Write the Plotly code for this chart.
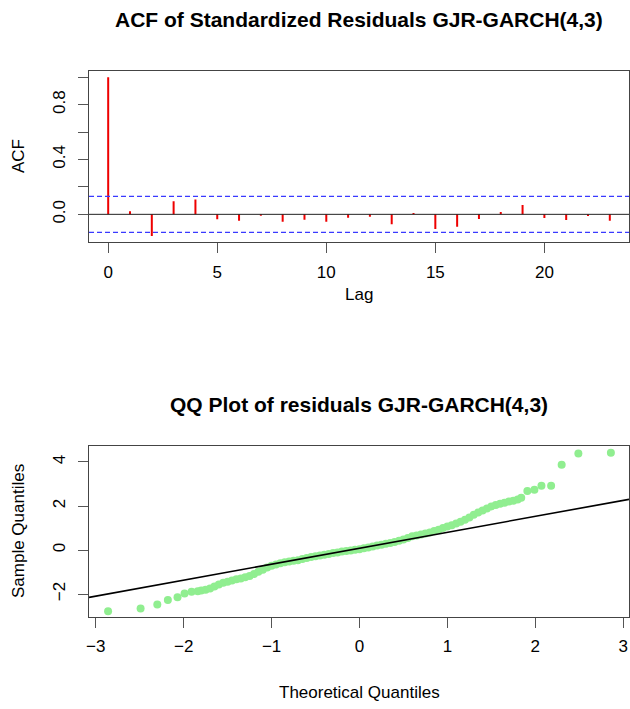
import plotly.graph_objects as go

# ---------------- data ----------------
acf_lags = list(range(0, 24))
acf_values = [1.0, 0.022, -0.158, 0.095, 0.109, -0.036, -0.047, -0.010, -0.054, -0.039,
              -0.054, -0.025, -0.017, -0.073, 0.009, -0.107, -0.090, -0.034, 0.017, 0.068,
              -0.027, -0.042, -0.012, -0.047]
acf_conf = 0.131
acf_xticks = [0, 5, 10, 15, 20]
acf_yticks = [0.0, 0.2, 0.4, 0.6, 0.8, 1.0]
acf_yticklabels = ["0.0", "", "0.4", "", "0.8", ""]

qq_theoretical = [
    -2.86, -2.49, -2.30, -2.18, -2.07, -1.99, -1.91, -1.84,
    -1.80, -1.75, -1.70, -1.65, -1.60, -1.55, -1.50, -1.45, -1.40, -1.35,
    -1.30, -1.25, -1.20, -1.15, -1.10, -1.05, -1.00, -0.95, -0.90, -0.85,
    -0.80, -0.75, -0.70, -0.65, -0.60, -0.55, -0.50, -0.45, -0.40, -0.35,
    -0.30, -0.25, -0.20, -0.15, -0.10, -0.05, 0.00, 0.05, 0.10, 0.15,
    0.20, 0.25, 0.30, 0.35, 0.40, 0.45, 0.50, 0.55, 0.60, 0.65,
    0.70, 0.75, 0.80, 0.85, 0.90, 0.95, 1.00, 1.05, 1.10, 1.15,
    1.20, 1.25, 1.30, 1.35, 1.40, 1.45, 1.50, 1.55, 1.60, 1.65,
    1.70, 1.75, 1.80,
    1.84, 1.91, 1.99, 2.07, 2.18, 2.30, 2.49, 2.86]
qq_sample = [
    -2.78, -2.66, -2.48, -2.27, -2.15, -1.98, -1.90, -1.87,
    -1.84, -1.80, -1.75, -1.66, -1.57, -1.49, -1.44, -1.38, -1.33, -1.29,
    -1.24, -1.18, -1.09, -0.99, -0.90, -0.80, -0.72, -0.66, -0.60, -0.56,
    -0.52, -0.49, -0.46, -0.41, -0.36, -0.32, -0.28, -0.25, -0.21, -0.18,
    -0.14, -0.11, -0.07, -0.05, -0.02, 0.01, 0.04, 0.08, 0.12, 0.16,
    0.20, 0.24, 0.28, 0.32, 0.36, 0.42, 0.48, 0.55, 0.62, 0.66,
    0.70, 0.75, 0.80, 0.86, 0.92, 1.00, 1.07, 1.13, 1.20, 1.29,
    1.38, 1.48, 1.60, 1.70, 1.80, 1.89, 1.98, 2.04, 2.10, 2.15,
    2.20, 2.24, 2.30,
    2.38, 2.68, 2.74, 2.92, 2.92, 3.88, 4.38, 4.42]
qq_line_intercept = 0.08
qq_line_slope = 0.725
qq_xticks = [-3, -2, -1, 0, 1, 2, 3]
qq_yticks = [-2, 0, 2, 4]

# ---------------- layout constants ----------------
W, H = 630, 709
ML = 89
MR = 1
PW = W - ML - MR
FONT = "Liberation Sans, Arial, sans-serif"
acf_xrange = [-0.88, 23.88]
acf_yrange = [-0.204, 1.048]
qq_xrange = [-3.077, 3.066]
qq_yrange = [-3.03, 4.74]


def py(pix):
    return 1 - pix / H


def px(pix):
    return (pix - ML) / PW


fig = go.Figure()

# ACF stems
sx, sy = [], []
for lag, v in zip(acf_lags, acf_values):
    sx += [lag, lag, None]
    sy += [0, v, None]
fig.add_trace(go.Scatter(x=sx, y=sy, mode="lines", line=dict(color="#ee0000", width=2),
                         xaxis="x", yaxis="y", showlegend=False, hoverinfo="skip"))

# QQ points
fig.add_trace(go.Scatter(x=qq_theoretical, y=qq_sample, mode="markers",
                         marker=dict(color="#90EE90", size=8, line=dict(width=0)),
                         xaxis="x2", yaxis="y2", showlegend=False))
# QQ line
lx = qq_xrange
ly = [qq_line_intercept + qq_line_slope * v for v in lx]
fig.add_trace(go.Scatter(x=lx, y=ly, mode="lines", line=dict(color="black", width=1.6),
                         xaxis="x2", yaxis="y2", showlegend=False))

shapes = [
    dict(type="line", xref="x domain", yref="y", x0=0, x1=1, y0=0, y1=0,
         line=dict(color="#222", width=1)),
    dict(type="line", xref="x domain", yref="y", x0=0, x1=1, y0=acf_conf, y1=acf_conf,
         line=dict(color="#3a3aff", width=1.2, dash="5px,3px")),
    dict(type="line", xref="x domain", yref="y", x0=0, x1=1, y0=-acf_conf, y1=-acf_conf,
         line=dict(color="#3a3aff", width=1.2, dash="5px,3px")),
]

axis_common = dict(showgrid=False, zeroline=False, showline=True, mirror=True,
                   linecolor="#444", linewidth=1, ticks="outside", ticklen=10,
                   tickcolor="#555", tickwidth=1, automargin=False,
                   ticklabeloverflow="allow",
                   tickfont=dict(family=FONT, size=17, color="black"))

fig.update_layout(
    width=W, height=H,
    margin=dict(l=ML, r=MR, t=0, b=0, autoexpand=False),
    paper_bgcolor="white", plot_bgcolor="white",
    showlegend=False,
    xaxis=dict(domain=[0, 1], range=acf_xrange, tickvals=acf_xticks, anchor="y",
               ticklabelstandoff=4, **axis_common),
    yaxis=dict(domain=[py(242.3), py(70.7)], range=acf_yrange, tickvals=acf_yticks,
               ticktext=acf_yticklabels, tickangle=-90, anchor="x",
               ticklabelstandoff=6, **axis_common),
    xaxis2=dict(domain=[0, 1], range=qq_xrange, tickvals=qq_xticks, anchor="y2",
                ticklabelstandoff=4, **axis_common),
    yaxis2=dict(domain=[py(616.7), py(445.7)], range=qq_yrange, tickvals=qq_yticks,
                tickangle=-90, anchor="x2", ticklabelstandoff=6, **axis_common),
    shapes=shapes,
    annotations=[
        dict(text="<b>ACF of Standardized Residuals GJR-GARCH(4,3)</b>", xref="paper", yref="paper",
             x=0.5, y=py(20), showarrow=False, xanchor="center", yanchor="middle",
             font=dict(family=FONT, size=21, color="black")),
        dict(text="<b>QQ Plot of residuals GJR-GARCH(4,3)</b>", xref="paper", yref="paper",
             x=0.5, y=py(404), showarrow=False, xanchor="center", yanchor="middle",
             font=dict(family=FONT, size=21, color="black")),
        dict(text="Lag", xref="paper", yref="paper", x=0.5, y=py(294), showarrow=False,
             xanchor="center", yanchor="middle", font=dict(family=FONT, size=17, color="black")),
        dict(text="Theoretical Quantiles", xref="paper", yref="paper", x=0.5, y=py(692),
             showarrow=False, xanchor="center", yanchor="middle",
             font=dict(family=FONT, size=17, color="black")),
        dict(text="ACF", xref="paper", yref="paper", x=px(18), y=py(156),
             showarrow=False, xanchor="center", yanchor="middle", textangle=-90,
             font=dict(family=FONT, size=17, color="black")),
        dict(text="Sample Quantiles", xref="paper", yref="paper", x=px(18), y=py(531),
             showarrow=False, xanchor="center", yanchor="middle", textangle=-90,
             font=dict(family=FONT, size=17, color="black")),
    ],
)

# remove the page's default body margin so the figure fills the window exactly
fig.write_html(
    "out.html",
    config={"displayModeBar": False},
    post_script="document.body.style.margin='0px';"
                "document.body.style.overflow='hidden';"
                "document.documentElement.style.overflow='hidden';",
)
